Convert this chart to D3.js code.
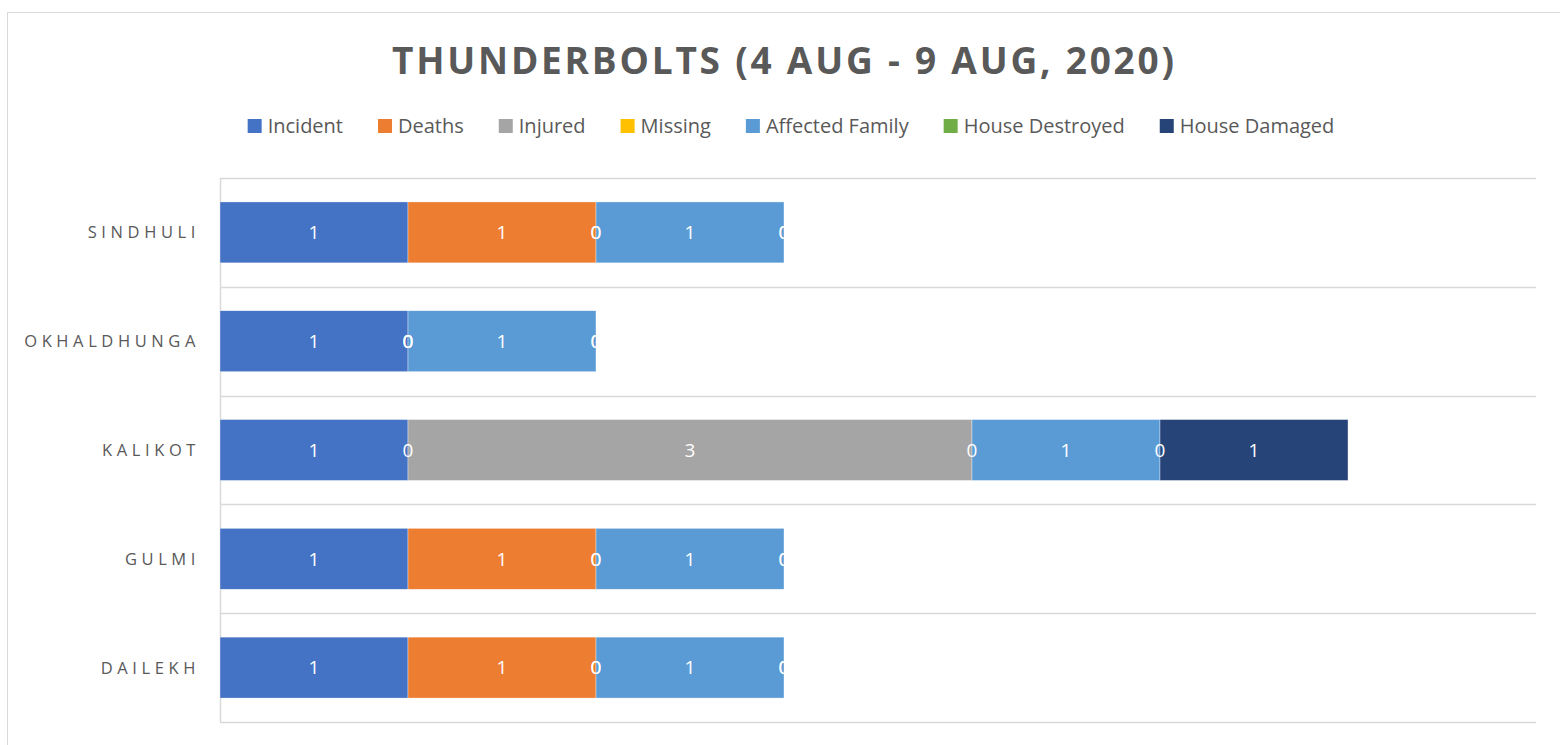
<!DOCTYPE html>
<html>
<head>
<meta charset="utf-8">
<script src="https://cdn.jsdelivr.net/npm/d3@7"></script>
<style>
  html, body { margin: 0; padding: 0; background: #fff; }
  svg { display: block; }
</style>
</head>
<body>
<svg id="chart" width="1560" height="745"></svg>
<script>
// ---- data ----
const categories = ["SINDHULI", "OKHALDHUNGA", "KALIKOT", "GULMI", "DAILEKH"];
const seriesNames = ["Incident", "Deaths", "Injured", "Missing", "Affected Family", "House Destroyed", "House Damaged"];
const incident       = [1, 1, 1, 1, 1];
const deaths         = [1, 0, 0, 1, 1];
const injured        = [0, 0, 3, 0, 0];
const missing        = [0, 0, 0, 0, 0];
const affectedFamily = [1, 1, 1, 1, 1];
const houseDestroyed = [0, 0, 0, 0, 0];
const houseDamaged   = [0, 0, 1, 0, 0];
const seriesColors = ["#4472C4", "#ED7D31", "#A5A5A5", "#FFC000", "#5B9BD5", "#70AD47", "#264478"];
const titleText = "THUNDERBOLTS (4 AUG - 9 AUG, 2020)";
const xMax = 7;

const seriesValues = [incident, deaths, injured, missing, affectedFamily, houseDestroyed, houseDamaged];
const table = categories.map((c, i) => {
  const row = { category: c };
  seriesNames.forEach((s, j) => row[s] = seriesValues[j][i]);
  return row;
});

// ---- layout ----
const svg = d3.select("#chart");
const plot = { left: 220, right: 1536, top: 178, bottom: 722 };
const textColor = "#595959";
const gridColor = "#D9D9D9";
const font = "'Open Sans', 'Noto Sans', sans-serif";

// outer chart border
svg.append("rect")
  .attr("x", 7.5).attr("y", 12.5)
  .attr("width", 1600).attr("height", 800)
  .attr("fill", "none").attr("stroke", gridColor).attr("stroke-width", 1);

const x = d3.scaleLinear().domain([0, xMax]).range([plot.left, plot.right]);
const y = d3.scaleBand().domain(categories).range([plot.top, plot.bottom])
  .paddingInner(0.44).paddingOuter(0.22);

// horizontal category separators
const sepY = d3.range(categories.length + 1).map(i => plot.top + i * (plot.bottom - plot.top) / categories.length);
svg.append("g").selectAll("line").data(sepY).join("line")
  .attr("x1", plot.left).attr("x2", plot.right)
  .attr("y1", d => Math.round(d) + 0.5).attr("y2", d => Math.round(d) + 0.5)
  .attr("stroke", gridColor).attr("stroke-width", 1.5);

// vertical category axis line
svg.append("line")
  .attr("x1", plot.left + 0.5).attr("x2", plot.left + 0.5)
  .attr("y1", plot.top).attr("y2", plot.bottom)
  .attr("stroke", gridColor).attr("stroke-width", 1.5);

// stacked data
const stack = d3.stack().keys(seriesNames);
const stacked = stack(table);

const barsG = svg.append("g");
stacked.forEach((layer, j) => {
  barsG.append("g").attr("fill", seriesColors[j])
    .selectAll("rect").data(layer).join("rect")
    .attr("x", d => x(d[0]))
    .attr("y", d => y(d.data.category))
    .attr("width", d => x(d[1]) - x(d[0]))
    .attr("height", y.bandwidth())
    .attr("stroke", "#ffffff").attr("stroke-width", 0.6).attr("stroke-opacity", 0.6);
});

// data labels
const labelsG = svg.append("g");
stacked.forEach((layer, j) => {
  labelsG.append("g").selectAll("text").data(layer).join("text")
    .attr("x", d => (x(d[0]) + x(d[1])) / 2)
    .attr("y", d => y(d.data.category) + y.bandwidth() / 2)
    .attr("dy", "0.36em")
    .attr("text-anchor", "middle")
    .attr("font-family", font).attr("font-size", 19)
    .attr("fill", "#ffffff")
    .text(d => d[1] - d[0]);
});

// category axis labels
const yAxis = d3.axisLeft(y).tickSize(0).tickPadding(0);
const yAxisG = svg.append("g").attr("transform", `translate(${plot.left - 20},0)`).call(yAxis);
yAxisG.select(".domain").remove();
yAxisG.selectAll("text")
  .attr("font-family", font).attr("font-size", 16.5)
  .attr("fill", textColor)
  .attr("letter-spacing", "4.6px")
  .attr("dy", "0.36em");

// title
svg.append("text")
  .attr("x", 392).attr("y", 74)
  .attr("font-family", font).attr("font-size", 37).attr("font-weight", 700)
  .attr("fill", textColor)
  .attr("textLength", 782).attr("lengthAdjust", "spacing")
  .text(titleText);

// legend
const legendG = svg.append("g");
const legendFont = 20;
const sq = 14, sqGap = 6, itemGap = 35;
const items = legendG.selectAll("g").data(seriesNames).join("g");
items.append("rect").attr("width", sq).attr("height", sq).attr("y", -sq / 2)
  .attr("fill", (d, i) => seriesColors[i]);
items.append("text").attr("x", sq + sqGap).attr("dy", "0.36em")
  .attr("font-family", font).attr("font-size", legendFont)
  .attr("fill", textColor).text(d => d);
let widths = [];
items.each(function () { widths.push(d3.select(this).select("text").node().getComputedTextLength() + sq + sqGap); });
const total = d3.sum(widths) + itemGap * (widths.length - 1);
let cx = 791 - total / 2;
items.attr("transform", (d, i) => {
  const t = `translate(${cx},126)`;
  cx += widths[i] + itemGap;
  return t;
});
</script>
</body>
</html>
